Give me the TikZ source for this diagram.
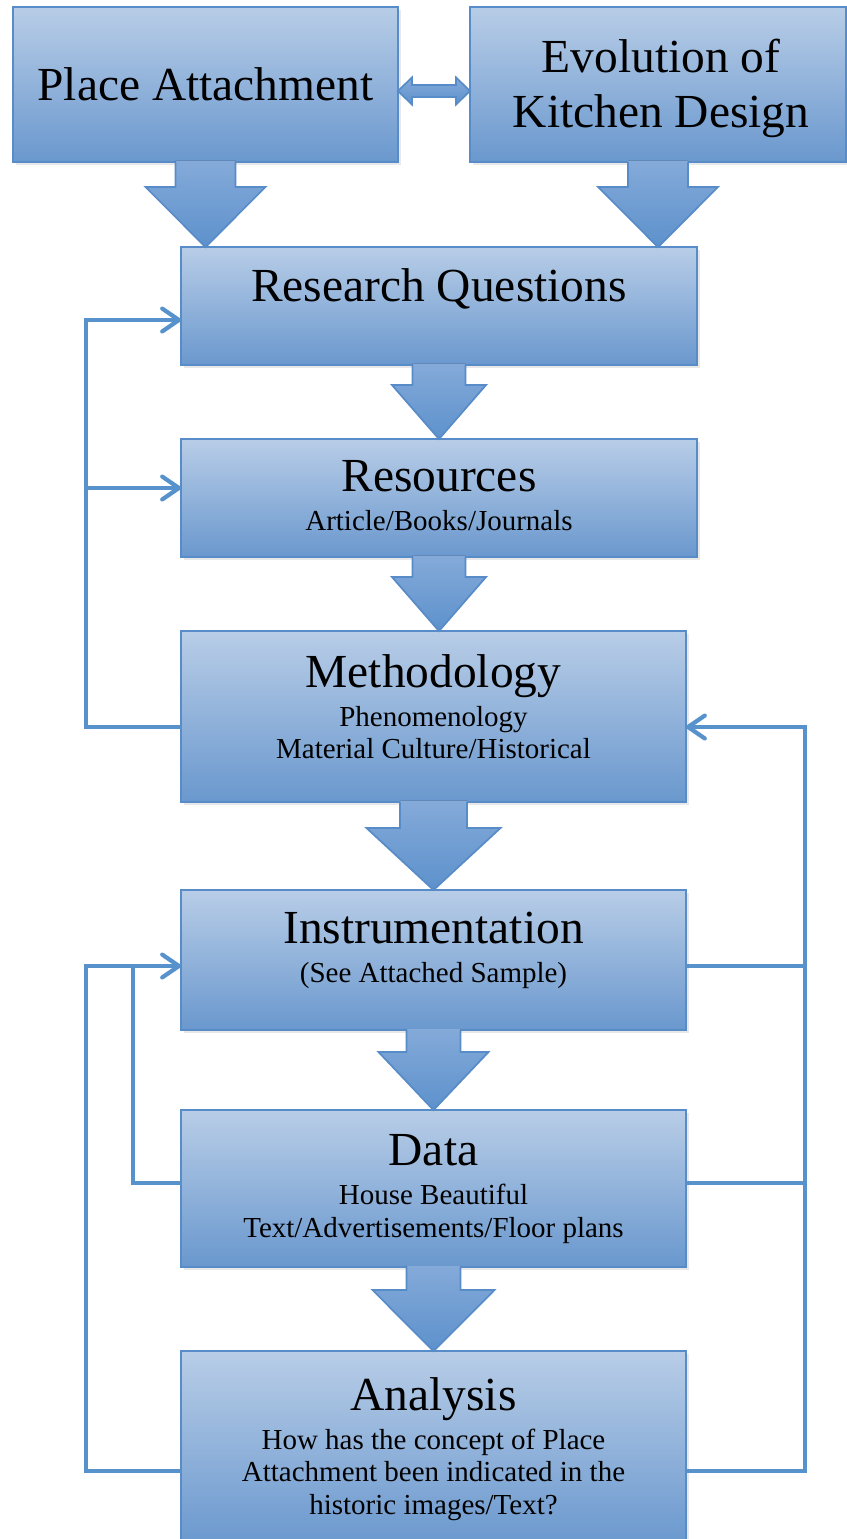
\documentclass[tikz,border=0pt]{standalone}
\usepackage{fontspec}
\setmainfont{Liberation Serif}
\usetikzlibrary{calc,arrows.meta,shadows}

\definecolor{boxtop}{RGB}{184,205,231}
\definecolor{boxbot}{RGB}{106,152,206}
\definecolor{boxline}{RGB}{88,140,200}
\definecolor{arrowtop}{RGB}{132,170,217}
\definecolor{arrowbot}{RGB}{93,145,204}
\definecolor{linkcol}{RGB}{88,146,204}

\newcommand\bigtxt{\fontsize{27}{31}\selectfont}
\newcommand\smalltxt{\fontsize{16.5}{18.7}\selectfont}

\tikzset{
  box/.style={rectangle, draw=boxline, line width=1.1pt, top color=boxtop, bottom color=boxbot,
    inner sep=0pt, outer sep=0pt, drop shadow={opacity=0.18, shadow xshift=1.5pt, shadow yshift=-1.5pt}},
  txt/.style={align=center, inner sep=0pt, font=\smalltxt},
  link/.style={draw=linkcol, line width=2.4pt},
  barb/.tip={Straight Barb[length=9.5pt,width=13pt,round]},
  blockfill/.style={top color=arrowtop, bottom color=arrowbot, draw=none},
  blockline/.style={draw=boxline, line width=1pt},
}

% block arrow: source, target, shaft half width, head half width, shaft length
\newcommand\bigarrow[5]{%
  \fill[blockfill] ($(#1.south)+(-#3,-1)$) -- ($(#1.south)+(-#3,#5)$) -- ($(#1.south)+(-#4,#5)$)
    -- (#1.south |- #2.north) -- ($(#1.south)+(#4,#5)$) -- ($(#1.south)+(#3,#5)$) -- ($(#1.south)+(#3,-1)$) -- cycle;
  \draw[blockline] ($(#1.south)+(-#3,0)$) -- ($(#1.south)+(-#3,#5)$) -- ($(#1.south)+(-#4,#5)$)
    -- (#1.south |- #2.north) -- ($(#1.south)+(#4,#5)$) -- ($(#1.south)+(#3,#5)$) -- ($(#1.south)+(#3,0)$);
}

\begin{document}
\begin{tikzpicture}[x=0.02cm,y=-0.02cm]
\useasboundingbox (0,0) rectangle (847,1539);
\clip (0,0) rectangle (847,1539);

% boxes
\node[box, minimum width=7.70cm, minimum height=3.10cm] (pa) at (205.5,84.5) {};
\node[box, minimum width=7.52cm, minimum height=3.10cm] (ekd) at (658,84.5) {};
\node[box, minimum width=10.32cm, minimum height=2.36cm] (rq) at (439,306) {};
\node[box, minimum width=10.32cm, minimum height=2.36cm] (res) at (439,498) {};
\node[box, minimum width=10.10cm, minimum height=3.42cm] (meth) at (433.5,716.5) {};
\node[box, minimum width=10.10cm, minimum height=2.80cm] (inst) at (433.5,960) {};
\node[box, minimum width=10.10cm, minimum height=3.14cm] (data) at (433.5,1188.5) {};
\node[box, minimum width=10.10cm, minimum height=3.88cm] (ana) at (433.5,1448) {};

% texts
\node[txt, font=\bigtxt] (pa-t) at (pa) {Place Attachment};
\node[txt, font=\bigtxt] (ekd-t) at ($(ekd)+(3,4)$) {Evolution of\\Kitchen Design};
\node[txt, anchor=north] (rq-t) at ($(rq.north)+(0,21)$) {{\bigtxt Research Questions}};
\node[txt, anchor=north] (res-t) at ($(res.north)+(0,21)$) {{\bigtxt Resources}\\[3.4pt]Article/Books/Journals};
\node[txt, anchor=north] (meth-t) at ($(meth.north)+(0,23)$) {{\bigtxt Methodology}\\[3.4pt]Phenomenology\\Material Culture/Historical};
\node[txt, anchor=north] (inst-t) at ($(inst.north)+(0,22)$) {{\bigtxt Instrumentation}\\[3.4pt](See Attached Sample)};
\node[txt, anchor=north] (data-t) at ($(data.north)+(0,24)$) {{\bigtxt Data}\\[3.4pt]House Beautiful\\Text/Advertisements/Floor plans};
\node[txt, anchor=north] (ana-t) at ($(ana.north)+(0,26)$) {{\bigtxt Analysis}\\[3.4pt]How has the concept of Place\\Attachment been indicated in the\\historic images/Text?};

% block arrows
\bigarrow{pa}{rq}{30}{60}{25}
\bigarrow{ekd}{rq}{30}{60}{25}
\bigarrow{rq}{res}{26.5}{47}{20}
\bigarrow{res}{meth}{26.5}{47}{20}
\bigarrow{meth}{inst}{33.5}{67}{26}
\bigarrow{inst}{data}{27}{55}{22}
\bigarrow{data}{ana}{27}{61}{23}

% two-way arrow at the top
\coordinate (dl) at ($(pa.east)+(0,6.5)$);
\coordinate (dr) at (ekd.west |- dl);
\filldraw[blockfill, blockline] (dl) -- ($(dl)+(14,-13.5)$) -- ($(dl)+(14,-6)$) -- ($(dr)+(-14,-6)$)
  -- ($(dr)+(-14,-13.5)$) -- (dr) -- ($(dr)+(-14,13.5)$) -- ($(dr)+(-14,6)$) -- ($(dl)+(14,6)$)
  -- ($(dl)+(14,13.5)$) -- cycle;

% feedback lines
\coordinate (lx) at (86,0);
\coordinate (lx2) at (133,0);
\coordinate (rx) at (805,0);
\coordinate (rq-l) at ($(rq.west)+(0,14)$);
\coordinate (res-l) at ($(res.west)+(0,-10)$);
\coordinate (meth-l) at ($(meth.west)+(0,10.5)$);
\coordinate (meth-r) at ($(meth.east)+(0,10.5)$);
\coordinate (inst-l) at ($(inst.west)+(0,6)$);
\coordinate (inst-r) at ($(inst.east)+(0,6)$);
\coordinate (data-l) at ($(data.west)+(0,-5.5)$);
\coordinate (data-r) at ($(data.east)+(0,-5.5)$);
\coordinate (ana-l) at ($(ana.west)+(0,23)$);
\coordinate (ana-r) at ($(ana.east)+(0,23)$);

\draw[link, -barb] (meth-l) -- (lx |- meth-l) -- (lx |- rq-l) -- (rq-l);
\draw[link, -barb] (lx |- res-l) -- (res-l);
\draw[link, -barb] (ana-r) -- (rx |- ana-r) -- (rx |- meth-r) -- (meth-r);
\draw[link] (inst-r) -- (rx |- inst-r);
\draw[link] (data-r) -- (rx |- data-r);
\draw[link, -barb] (ana-l) -- (lx |- ana-l) -- (lx |- inst-l) -- (inst-l);
\draw[link] (data-l) -- (lx2 |- data-l) -- (lx2 |- inst-l);
\end{tikzpicture}
\end{document}
